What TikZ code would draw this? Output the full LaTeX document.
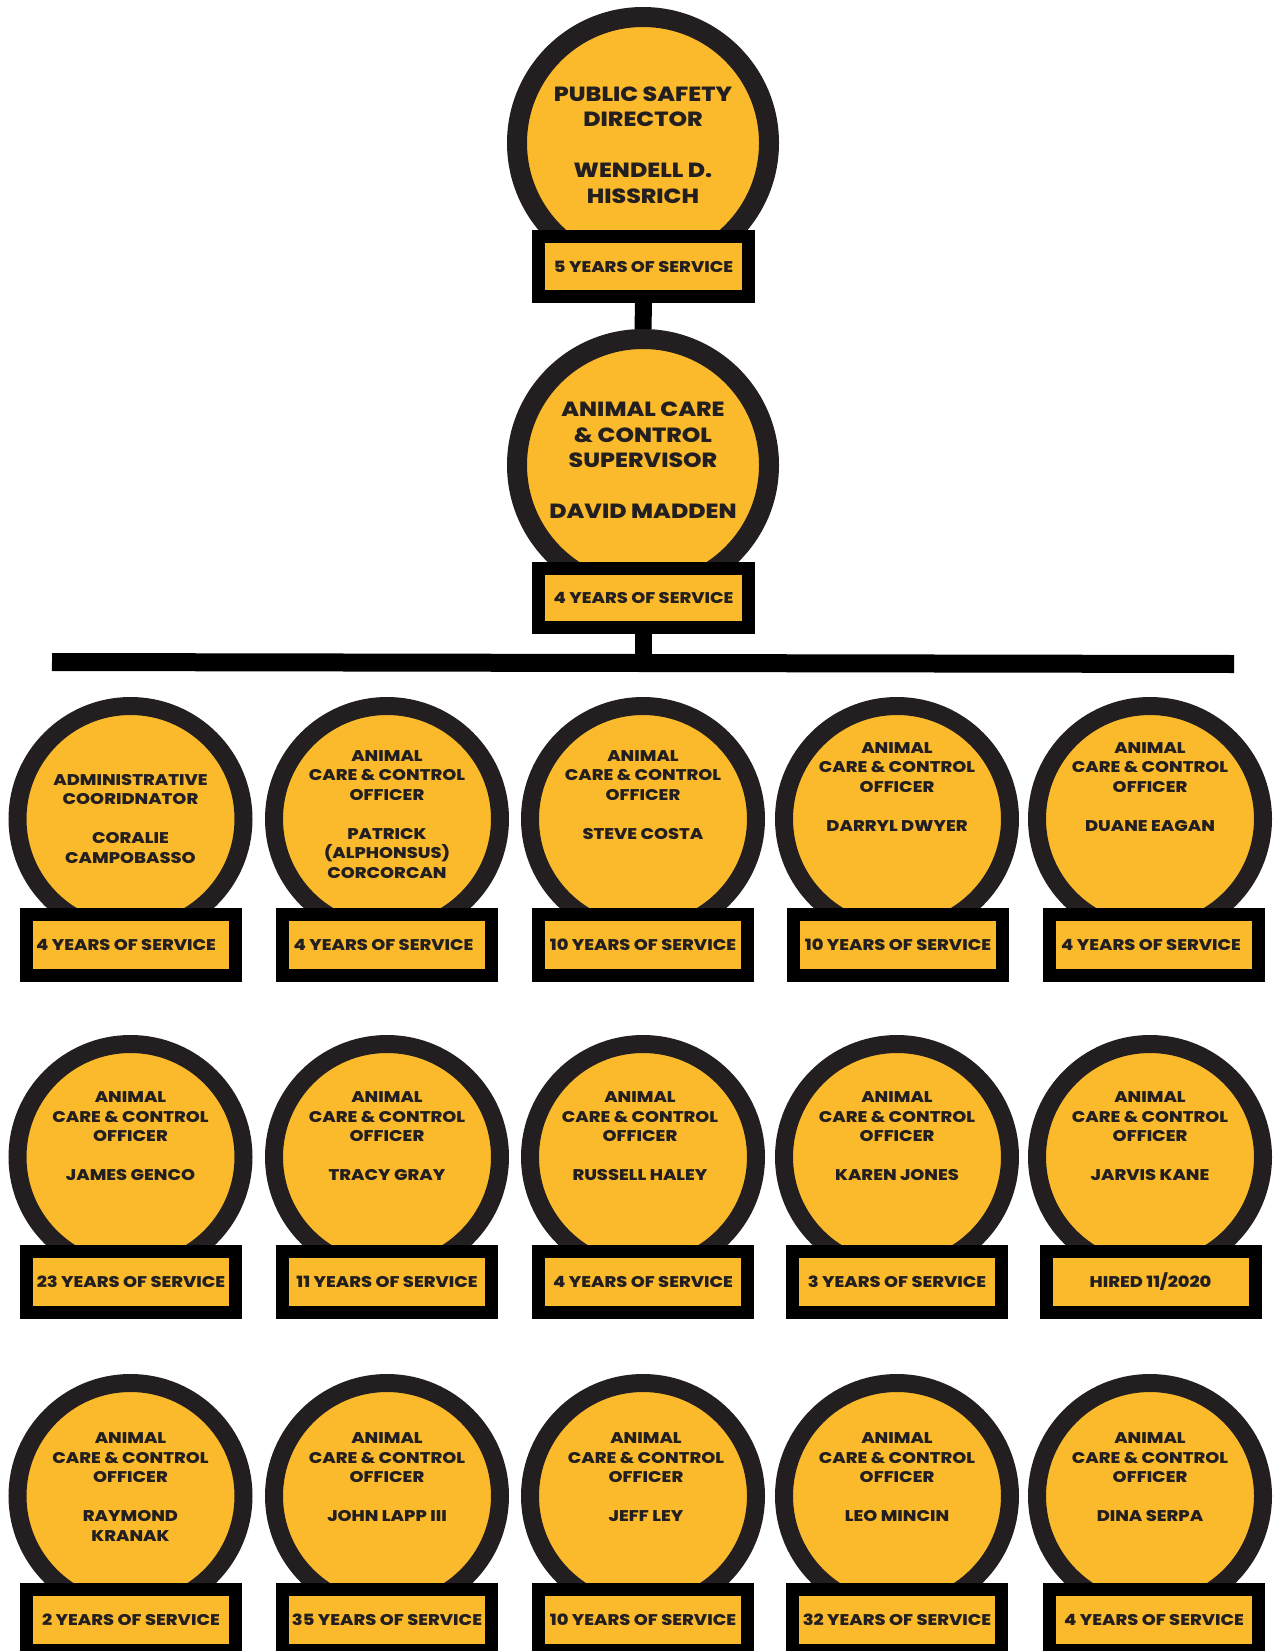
\documentclass[tikz,border=0pt]{standalone}
\usepackage{fontspec}
\IfFontExistsTF{Poppins ExtraBold}{%
  \setmainfont{Poppins}[BoldFont={Poppins ExtraBold}, FakeStretch=1.15]}{%
  \IfFontExistsTF{Poppins Black}{%
    \setmainfont{Poppins}[BoldFont={Poppins Black}, FakeStretch=1.15]}{%
    \setmainfont{Poppins}[FakeStretch=1.15, BoldFeatures={FakeBold=1.5}]}}
\definecolor{gold}{HTML}{FBBA2B}
\definecolor{ringc}{HTML}{231F20}
\definecolor{ink}{HTML}{231F20}
\newcommand\smallfont{\fontsize{15.5}{19.5}\selectfont\bfseries}
\newcommand\bigfont{\fontsize{20.5}{25.5}\selectfont\bfseries}
\tikzset{
  ring/.style={circle, draw=ringc, fill=gold, line width=18pt, minimum size=226pt, inner sep=0pt},
  bigring/.style={ring, line width=20pt, minimum size=252pt},
  tag/.style={rectangle, draw=black, fill=gold, line width=13pt, minimum width=209pt, minimum height=61pt, inner sep=0pt, font=\smallfont, text=ink},
  txt/.style={align=center, font=\smallfont, text=ink, inner sep=0pt},
  bigtxt/.style={txt, font=\bigfont},
  conn/.style={draw=black, line width=17pt},
  bar/.style={draw=black, line width=18pt}
}
\begin{document}
\begin{tikzpicture}[x=1pt,y=-1pt]
\useasboundingbox (0,0) rectangle (1276,1651);
% top
\node[bigring] (c0) at (643,143) {};
\node[tag, minimum width=210pt, minimum height=60pt] (s0) at (643.5,266.5) {5 YEARS OF SERVICE};
\node[bigtxt] (t0) at (643,145) {PUBLIC SAFETY\\DIRECTOR\\[25.5pt]WENDELL D.\\HISSRICH};
% supervisor
\node[bigring] (c1) at (643,465) {};
\node[tag, minimum width=210pt, minimum height=59pt] (s1) at (643.5,598) {4 YEARS OF SERVICE};
\node[bigtxt] (t1) at (643,460.5) {ANIMAL CARE\\\& CONTROL\\SUPERVISOR\\[25.5pt]DAVID MADDEN};
% connectors
\draw[conn] (s0.south) -- (c1.north);
\coordinate (barL) at (52,662);
\coordinate (barR) at (1234,664);
\coordinate (barM) at (643.5,663);
\draw[bar] (barL) -- (barR);
\draw[conn] (s1.south) -- (barM);
% row 1
\node[ring] (r11) at (130.5,819) {};
\node[tag] (b11) at (131,944.5) {4 YEARS OF SERVICE\hspace*{10pt}};
\node[txt] (t11) at (130.5,818.5) {ADMINISTRATIVE\\COORIDNATOR\\[19.5pt]CORALIE\\CAMPOBASSO};
\node[ring] (r12) at (387,819) {};
\node[tag] (b12) at (387,944.5) {4 YEARS OF SERVICE\hspace*{7pt}};
\node[txt] (t12) at (387,814.5) {ANIMAL\\CARE \& CONTROL\\OFFICER\\[19.5pt]PATRICK\\(ALPHONSUS)\\CORCORCAN};
\node[ring] (r13) at (643,819) {};
\node[tag] (b13) at (643,944.5) {10 YEARS OF SERVICE};
\node[txt] (t13) at (643,795) {ANIMAL\\CARE \& CONTROL\\OFFICER\\[19.5pt]STEVE COSTA};
\node[ring] (r14) at (897,819) {};
\node[tag] (b14) at (898,944.5) {10 YEARS OF SERVICE};
\node[txt] (t14) at (897,787) {ANIMAL\\CARE \& CONTROL\\OFFICER\\[19.5pt]DARRYL DWYER};
\node[ring] (r15) at (1150,819) {};
\node[tag] (b15) at (1154,944.5) {4 YEARS OF SERVICE\hspace*{6pt}};
\node[txt] (t15) at (1150,787) {ANIMAL\\CARE \& CONTROL\\OFFICER\\[19.5pt]DUANE EAGAN};
% row 2
\node[ring] (r21) at (130.5,1157) {};
\node[tag] (b21) at (131,1282) {23 YEARS OF SERVICE};
\node[txt] (t21) at (130.5,1136.5) {ANIMAL\\CARE \& CONTROL\\OFFICER\\[19.5pt]JAMES GENCO};
\node[ring] (r22) at (387,1157) {};
\node[tag] (b22) at (387,1282) {11 YEARS OF SERVICE};
\node[txt] (t22) at (387,1136.5) {ANIMAL\\CARE \& CONTROL\\OFFICER\\[19.5pt]TRACY GRAY};
\node[ring] (r23) at (643,1157) {};
\node[tag] (b23) at (643,1282) {4 YEARS OF SERVICE};
\node[txt] (t23) at (640,1136.5) {ANIMAL\\CARE \& CONTROL\\OFFICER\\[19.5pt]RUSSELL HALEY};
\node[ring] (r24) at (897,1157) {};
\node[tag] (b24) at (897,1282) {3 YEARS OF SERVICE};
\node[txt] (t24) at (897,1136.5) {ANIMAL\\CARE \& CONTROL\\OFFICER\\[19.5pt]KAREN JONES};
\node[ring] (r25) at (1150,1157) {};
\node[tag] (b25) at (1150.5,1282) {HIRED 11/2020};
\node[txt] (t25) at (1150,1136.5) {ANIMAL\\CARE \& CONTROL\\OFFICER\\[19.5pt]JARVIS KANE};
% row 3
\node[ring] (r31) at (130.5,1496) {};
\node[tag] (b31) at (131,1620) {2 YEARS OF SERVICE};
\node[txt] (t31) at (130.5,1487) {ANIMAL\\CARE \& CONTROL\\OFFICER\\[19.5pt]RAYMOND\\KRANAK};
\node[ring] (r32) at (387,1496) {};
\node[tag] (b32) at (387,1620) {35 YEARS OF SERVICE};
\node[txt] (t32) at (387,1477.5) {ANIMAL\\CARE \& CONTROL\\OFFICER\\[19.5pt]JOHN LAPP III};
\node[ring] (r33) at (643,1496) {};
\node[tag] (b33) at (643,1620) {10 YEARS OF SERVICE};
\node[txt] (t33) at (646,1477.5) {ANIMAL\\CARE \& CONTROL\\OFFICER\\[19.5pt]JEFF LEY};
\node[ring] (r34) at (897,1496) {};
\node[tag] (b34) at (897,1620) {32 YEARS OF SERVICE};
\node[txt] (t34) at (897,1477.5) {ANIMAL\\CARE \& CONTROL\\OFFICER\\[19.5pt]LEO MINCIN};
\node[ring] (r35) at (1150,1496) {};
\node[tag] (b35) at (1154,1620) {4 YEARS OF SERVICE};
\node[txt] (t35) at (1150,1477.5) {ANIMAL\\CARE \& CONTROL\\OFFICER\\[19.5pt]DINA SERPA};
\end{tikzpicture}
\end{document}
